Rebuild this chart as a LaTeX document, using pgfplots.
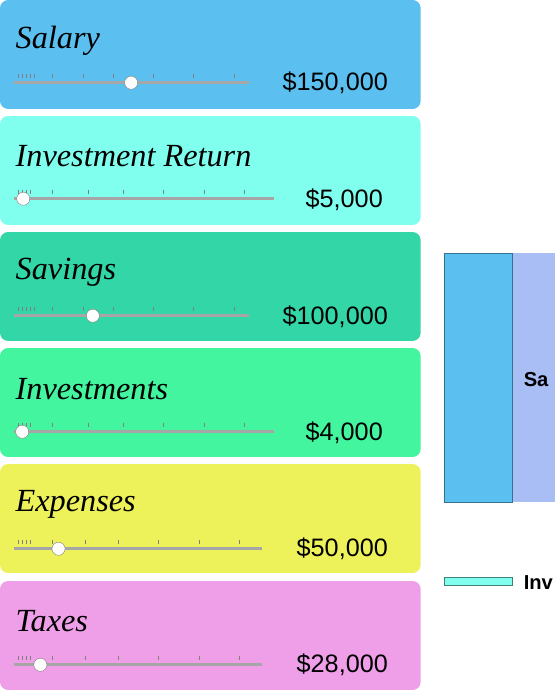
\documentclass[border=0pt]{standalone}
\usepackage{pgfplots}
\pgfplotsset{compat=1.18}
\usepackage{fontspec}
\setmainfont{Liberation Sans}
\newfontfamily\hand{Liberation Serif}
\definecolor{c1}{HTML}{5BBFEF}
\definecolor{c2}{HTML}{80FFEE}
\definecolor{c3}{HTML}{33D6A6}
\definecolor{c4}{HTML}{44F5A0}
\definecolor{c5}{HTML}{EEF25A}
\definecolor{c6}{HTML}{EE9FE8}
\definecolor{lav}{HTML}{A9BEF5}
\begin{document}
\begin{tikzpicture}
\begin{axis}[scale only axis, width=558pt, height=690pt, xmin=0, xmax=558, ymin=0, ymax=690,
  y dir=reverse, axis lines=none, ticks=none, clip=true]
% boxes
\foreach \t/\c in {2/c1,117/c2,232/c3,347/c4,462/c5,578/c6}{
  \edef\tmp{\noexpand\fill[\c, rounded corners=8pt] (axis cs:8,\t) rectangle (axis cs:425,\t+108);}\tmp
}
% titles
\node[anchor=west] at (axis cs:20,42) {\hand\itshape\fontsize{32}{34}\selectfont Salary};
\node[anchor=west] at (axis cs:20,157) {\hand\itshape\fontsize{32}{34}\selectfont Investment Return};
\node[anchor=west] at (axis cs:20,272) {\hand\itshape\fontsize{32}{34}\selectfont Savings};
\node[anchor=west] at (axis cs:20,388) {\hand\itshape\fontsize{32}{34}\selectfont Investments};
\node[anchor=west] at (axis cs:20,502) {\hand\itshape\fontsize{32}{34}\selectfont Expenses};
\node[anchor=west] at (axis cs:20,618) {\hand\itshape\fontsize{32}{34}\selectfont Taxes};
% values
\node[anchor=east] at (axis cs:396,84) {\fontsize{25}{28}\selectfont \$150,000};
\node[anchor=east] at (axis cs:391,200) {\fontsize{25}{28}\selectfont \$5,000};
\node[anchor=east] at (axis cs:396,316) {\fontsize{25}{28}\selectfont \$100,000};
\node[anchor=east] at (axis cs:391,431) {\fontsize{25}{28}\selectfont \$4,000};
\node[anchor=east] at (axis cs:396,546) {\fontsize{25}{28}\selectfont \$50,000};
\node[anchor=east] at (axis cs:396,661) {\fontsize{25}{28}\selectfont \$28,000};
% tracks
\addplot[gray!70, line width=3pt, no marks] coordinates {(22,84) (255,84)};
\addplot[gray!70, line width=3pt, no marks] coordinates {(22,199) (280,199)};
\addplot[gray!70, line width=3pt, no marks] coordinates {(22,315) (255,315)};
\addplot[gray!70, line width=3pt, no marks] coordinates {(22,430) (280,430)};
\addplot[gray!70, line width=3pt, no marks] coordinates {(22,546) (268,546)};
\addplot[gray!70, line width=3pt, no marks] coordinates {(22,661) (268,661)};
% small ticks
\addplot[gray, only marks, mark=|, mark size=2pt] coordinates {(26,77)(30,77)(34,77)(38,77)(42,77)(60,77)(90,77)(120,77)(160,77)(200,77)(240,77)
 (26,192)(30,192)(34,192)(38,192)(60,192)(95,192)(130,192)(170,192)(210,192)(250,192)
 (26,308)(30,308)(34,308)(38,308)(42,308)(60,308)(90,308)(120,308)(160,308)(200,308)(240,308)
 (26,423)(30,423)(34,423)(38,423)(60,423)(95,423)(130,423)(170,423)(210,423)(250,423)
 (26,539)(30,539)(34,539)(38,539)(60,539)(92,539)(125,539)(165,539)(205,539)(245,539)
 (26,654)(30,654)(34,654)(38,654)(60,654)(92,654)(125,654)(165,654)(205,654)(245,654)};
% thumbs
\addplot[only marks, mark=*, mark size=6.5pt, mark options={fill=white, draw=gray}] coordinates {(138,84)(31,199)(100,315)(30,430)(66,546)(48,661)};
% sankey fragment
\fill[lav] (axis cs:516,253) rectangle (axis cs:558,500);
\draw[fill=c1, draw=c1!60!black] (axis cs:448,253) rectangle (axis cs:516,500);
\draw[fill=c2, draw=c2!50!black] (axis cs:448,574) rectangle (axis cs:516,582);
\node[anchor=west, inner sep=0pt] at (axis cs:527,378) {\bfseries\fontsize{20}{22}\selectfont Sa};
\node[anchor=west, inner sep=0pt] at (axis cs:527,579) {\bfseries\fontsize{20}{22}\selectfont Inv};
\end{axis}
\end{tikzpicture}
\end{document}
